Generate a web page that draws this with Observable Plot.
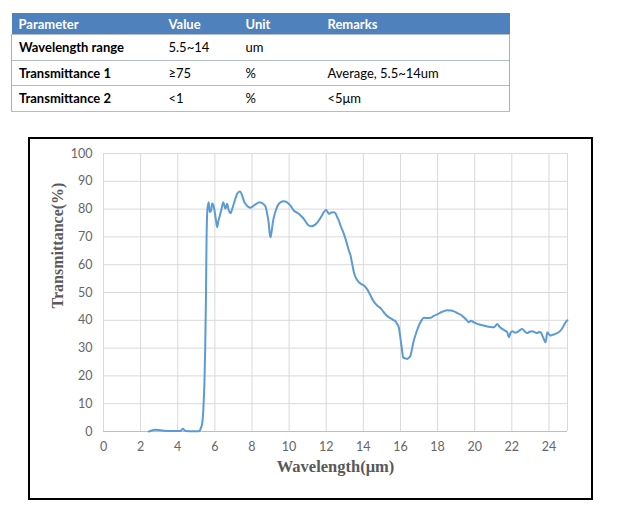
<!DOCTYPE html>
<html>
<head>
<meta charset="utf-8">
<script src="https://cdn.jsdelivr.net/npm/d3@7"></script>
<script src="https://cdn.jsdelivr.net/npm/@observablehq/plot@0.6"></script>
<style>
  html, body { margin: 0; padding: 0; background: #fff; }
  #page { position: relative; width: 624px; height: 515px; overflow: hidden; }
  #tbl { position: absolute; left: 11px; top: 13px; width: 498px; border-collapse: collapse; table-layout: fixed;
         font-family: Lato, "Open Sans", sans-serif; font-size: 13px; color: #000; }
  #tbl th { background: #4f81bd; color: #fff; font-weight: bold; text-align: left; height: 21px; padding: 0 0 0 7px; }
  #tbl td { height: 24.5px; padding: 0 0 0 7px; border-top: 1.5px solid #b4bcc8; }
  #tbl tr:last-child td { border-bottom: 1.5px solid #b4bcc8; }
  #tbl td:first-child { font-weight: bold; border-left: 1.5px solid #9fb1c9; }
  #tbl td:last-child { border-right: 1.5px solid #9fb1c9; }
  #box { position: absolute; left: 28px; top: 137px; width: 561px; height: 359px; border: 2px solid #000; }
  #chart { position: absolute; left: 0; top: 0; }
</style>
</head>
<body>
<div id="page">
  <table id="tbl"></table>
  <div id="box"></div>
  <div id="chart"></div>
</div>
<script>
// ---- table data ----
const tableHeader = ["Parameter", "Value", "Unit", "Remarks"];
const paramNames = ["Wavelength range", "Transmittance 1", "Transmittance 2"];
const paramValues = ["5.5~14", "\u226575", "<1"];
const paramUnits = ["um", "%", "%"];
const paramRemarks = ["", "Average, 5.5~14um", "<5\u03bcm"];

// ---- chart data ----
const wavelength = [2.44,2.8,3.25,3.7,4.15,4.27,4.42,4.8,5.14,5.26,5.32,5.38,5.44,5.48,5.52,5.55,5.6,5.67,5.72,5.8,5.85,5.91,6.0,6.06,6.12,6.2,6.27,6.36,6.45,6.57,6.66,6.75,6.84,6.93,7.02,7.12,7.2,7.35,7.47,7.56,7.65,7.8,7.92,8.05,8.19,8.42,8.64,8.75,8.82,8.9,8.96,9.0,9.06,9.12,9.18,9.28,9.39,9.55,9.71,9.85,9.98,10.12,10.25,10.4,10.52,10.65,10.79,10.92,11.06,11.2,11.33,11.47,11.6,11.75,11.87,12.0,12.07,12.14,12.28,12.41,12.5,12.59,12.68,12.77,12.95,13.04,13.22,13.31,13.4,13.49,13.58,13.76,13.9,14.03,14.12,14.29,14.39,14.52,14.66,14.8,14.92,15.1,15.29,15.37,15.5,15.64,15.73,15.82,15.91,15.98,16.04,16.1,16.14,16.25,16.36,16.45,16.54,16.63,16.72,16.85,16.99,17.12,17.26,17.45,17.62,17.8,17.98,18.16,18.34,18.5,18.7,18.88,19.06,19.25,19.41,19.55,19.68,19.8,19.95,20.1,20.31,20.5,20.67,20.85,21.03,21.12,21.21,21.35,21.48,21.6,21.75,21.84,21.93,22.02,22.15,22.29,22.42,22.56,22.7,22.83,22.96,23.1,23.24,23.37,23.46,23.55,23.64,23.72,23.82,23.91,24.0,24.08,24.2,24.35,24.5,24.62,24.75,24.84,24.98,25.0];
const transmittance = [0,0.6,0.3,0.2,0.2,1.0,0.2,0.1,0.1,1.5,3,8,18,30,48,68,80,82.5,79,79.5,82,81.5,78.7,76,73.5,76,77.7,80,82.5,80.1,81.9,79.5,78.5,80,81.9,84,85.5,86.3,84.9,83,81.9,80.8,80.5,81,81.7,82.5,81.7,80.5,78.3,75,71,69.9,72,75,77.1,79.5,81.3,82.5,82.8,82.6,81.9,80.8,79.5,78.8,78.3,77.5,76.5,75.2,74.1,73.8,74.1,74.8,75.9,77.5,78.9,79.7,79,78.3,78.8,78.9,78.5,77.1,75.9,74.1,71.1,69.3,65.1,63.3,60.3,57.3,55.5,53.7,53,52.5,51.9,50.2,48.9,47.2,45.9,45,44.4,42.9,41.5,41.1,40.6,40.0,39.7,38.7,37.5,34.5,31.5,28.5,26.7,26.3,26.1,26.5,27.3,30,32.7,35.5,38.1,39.8,40.9,40.8,40.9,41.6,42.1,42.8,43.3,43.6,43.5,43.2,42.6,42.0,41.1,40.2,39.3,39.8,39.3,38.8,38.4,38.1,37.8,37.6,37.5,38.0,38.7,37.6,36.9,36.4,35.7,33.9,35.5,36.1,35.6,35.7,36.4,36.9,36.0,35.4,35.9,36.1,35.7,35.4,35.8,35.7,34.6,33.3,32.1,35.7,35.0,34.5,34.8,35.1,35.6,36.3,37.5,38.7,39.9,40.0];
const xTicks = [0,2,4,6,8,10,12,14,16,18,20,22,24];
const yTicks = [0,10,20,30,40,50,60,70,80,90,100];
const xLabel = "Wavelength(\u03bcm)";
const yLabel = "Transmittance(%)";

// build table
const tbl = document.getElementById("tbl");
const colW = [150, 77, 82, 189];
const cg = document.createElement("colgroup");
colW.forEach(w => { const c = document.createElement("col"); c.style.width = w + "px"; cg.appendChild(c); });
tbl.appendChild(cg);
const hr = document.createElement("tr");
tableHeader.forEach(h => { const th = document.createElement("th"); th.textContent = h; hr.appendChild(th); });
tbl.appendChild(hr);
paramNames.forEach((n, i) => {
  const tr = document.createElement("tr");
  [n, paramValues[i], paramUnits[i], paramRemarks[i]].forEach(v => {
    const td = document.createElement("td"); td.textContent = v; tr.appendChild(td);
  });
  tbl.appendChild(tr);
});

const data = wavelength.map((w, i) => ({w, t: transmittance[i]}));

const plot = Plot.plot({
  width: 624,
  height: 515,
  marginLeft: 103,
  marginRight: 57,
  marginTop: 153,
  marginBottom: 84,
  style: {background: "transparent", fontFamily: "Lato, 'Open Sans', sans-serif", fontSize: "12.5px", color: "#595959"},
  x: {domain: [0, 25]},
  y: {domain: [0, 100]},
  marks: [
    Plot.ruleX(xTicks.concat([25]), {stroke: "#d9d9d9", strokeWidth: 1}),
    Plot.ruleY(yTicks.filter(d => d > 0), {stroke: "#d9d9d9", strokeWidth: 1}),
    Plot.ruleY([0], {stroke: "#bfbfbf", strokeWidth: 1}),
    Plot.axisX({ticks: xTicks, tickSize: 0, tickPadding: 11, label: null, fill: "#666666"}),
    Plot.axisY({ticks: yTicks, tickSize: 0, tickPadding: 11, label: null, fill: "#666666"}),
    Plot.line(data, {x: "w", y: "t", stroke: "#5b9bd5", strokeWidth: 2, curve: "monotone-x"}),
    Plot.text([xLabel], {frameAnchor: "bottom", dy: 40, fontFamily: "'Liberation Serif', 'Times New Roman', serif", fontWeight: "bold", fontSize: 16.5, fill: "#595959"}),
    Plot.text([yLabel], {frameAnchor: "left", dx: -46, dy: 16, rotate: -90, fontFamily: "'Liberation Serif', 'Times New Roman', serif", fontWeight: "bold", fontSize: 16, fill: "#595959"})
  ]
});
document.getElementById("chart").appendChild(plot);
</script>
</body>
</html>
